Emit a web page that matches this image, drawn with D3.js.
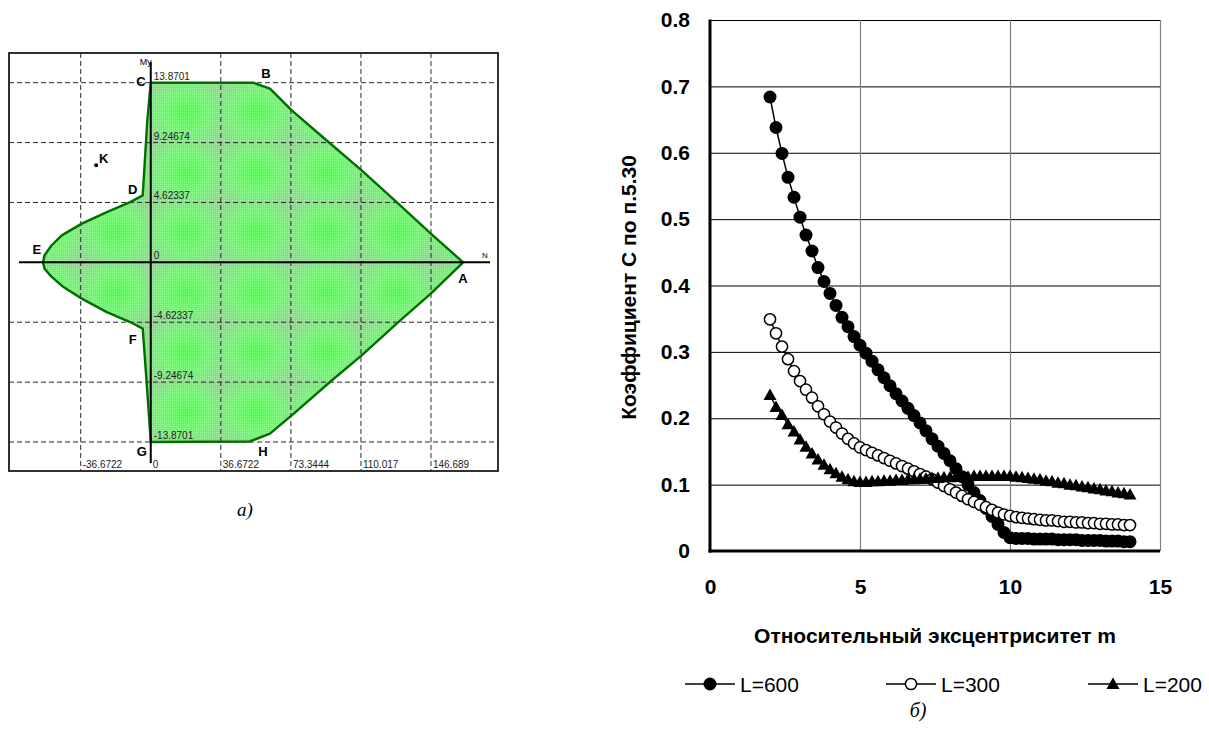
<!DOCTYPE html>
<html>
<head>
<meta charset="utf-8">
<script src="https://cdn.jsdelivr.net/npm/d3@7"></script>
<style>
  html, body { margin: 0; padding: 0; background: #fff; }
  svg { display: block; font-family: "Liberation Sans", Arial, sans-serif; }
</style>
</head>
<body>
<svg id="chart" width="1209" height="731"></svg>
<script>
// ---------- (а) interaction diagram N - My ----------
const gridN = [ -36.6722, 0, 36.6722, 73.3444, 110.017, 146.689 ]
const gridNLabels = [ '-36.6722', '0', '36.6722', '73.3444', '110.017', '146.689' ]
const gridM = [ 13.8701, 9.24674, 4.62337, 0, -4.62337, -9.24674, -13.8701 ]
const gridMLabels = [ '13.8701', '9.24674', '4.62337', '0', '-4.62337', '-9.24674', '-13.8701' ]

// boundary of the curve, clockwise from C
const curveN = [ 0, 53.7, 62.4, 73.8, 92.1, 110.4, 128.7, 146.6, 163.5, 146.6, 128.7, 110.4, 93.8, 73.8, 62.4, 51.9, 0,
                 -2.1, -4.2, -10.8, -23.0, -36.1, -45.7, -52.0, -55.6, -56.4, -55.6, -52.0, -46.6, -36.1, -23.0, -10.8, -4.2, -1.8 ]
const curveM = [ 13.87, 13.87, 13.41, 11.73, 9.41, 7.10, 4.65, 2.22, 0, -2.42, -4.73, -7.18, -9.24, -11.81, -13.22, -13.83, -13.87,
                 -9.36, -5.12, -4.61, -3.84, -2.80, -1.91, -1.10, -0.50, 0, 0.55, 1.30, 2.08, 2.99, 3.88, 4.65, 5.17, 10.96 ]

const pointNames = [ 'A', 'B', 'C', 'D', 'E', 'F', 'G', 'H', 'K' ]
const pointN = [ 163.4, 60.3, -5.2, -9.4, -59.6, -9.4, -4.7, 58.7, -24.6 ]
const pointM = [ -1.23, 14.59, 14.0, 5.63, 1.0, -5.94, -14.64, -14.64, 8.03 ]
const loadN = -28.6, loadM = 7.49

// ---------- (б) coefficient C vs relative eccentricity ----------
const eccentricity = [ 2.0, 2.2, 2.4, 2.6, 2.8, 3.0, 3.2, 3.4, 3.6, 3.8, 4.0, 4.2, 4.4, 4.6, 4.8, 5.0, 5.2, 5.4, 5.6, 5.8,
                       6.0, 6.2, 6.4, 6.6, 6.8, 7.0, 7.2, 7.4, 7.6, 7.8, 8.0, 8.2, 8.4, 8.6, 8.8, 9.0, 9.2, 9.4, 9.6, 9.8,
                       10.0, 10.2, 10.4, 10.6, 10.8, 11.0, 11.2, 11.4, 11.6, 11.8, 12.0, 12.2, 12.4, 12.6, 12.8, 13.0, 13.2, 13.4, 13.6, 13.8, 14.0 ]

const cL600 = [ 0.684, 0.638, 0.599, 0.563, 0.533, 0.503, 0.476, 0.452, 0.427, 0.406, 0.388, 0.370, 0.352, 0.338, 0.323, 0.310, 0.298, 0.286, 0.273, 0.261,
                0.249, 0.237, 0.226, 0.215, 0.204, 0.193, 0.181, 0.169, 0.158, 0.147, 0.136, 0.124, 0.112, 0.100, 0.088, 0.076, 0.064, 0.052, 0.040, 0.028,
                0.020, 0.019, 0.019, 0.019, 0.018, 0.018, 0.018, 0.018, 0.017, 0.017, 0.017, 0.017, 0.016, 0.016, 0.016, 0.016, 0.015, 0.015, 0.015, 0.014, 0.014 ]

const cL300 = [ 0.349, 0.328, 0.308, 0.289, 0.271, 0.256, 0.243, 0.231, 0.218, 0.206, 0.195, 0.186, 0.177, 0.169, 0.162, 0.156, 0.152, 0.148, 0.144, 0.140,
                0.136, 0.132, 0.128, 0.124, 0.120, 0.116, 0.112, 0.108, 0.103, 0.098, 0.093, 0.088, 0.083, 0.078, 0.074, 0.070, 0.066, 0.062, 0.058, 0.055,
                0.053, 0.051, 0.050, 0.049, 0.048, 0.047, 0.046, 0.046, 0.045, 0.044, 0.044, 0.043, 0.043, 0.042, 0.042, 0.041, 0.041, 0.040, 0.040, 0.039, 0.039 ]

const cL200 = [ 0.235, 0.217, 0.205, 0.191, 0.180, 0.168, 0.157, 0.147, 0.138, 0.130, 0.123, 0.117, 0.112, 0.108, 0.105, 0.104, 0.104, 0.105, 0.105, 0.106,
                0.106, 0.107, 0.107, 0.108, 0.108, 0.109, 0.109, 0.110, 0.110, 0.111, 0.111, 0.112, 0.112, 0.112, 0.113, 0.113, 0.113, 0.113, 0.113, 0.113,
                0.113, 0.112, 0.111, 0.110, 0.109, 0.108, 0.106, 0.105, 0.103, 0.102, 0.100, 0.099, 0.097, 0.096, 0.094, 0.093, 0.091, 0.090, 0.088, 0.087, 0.085 ]

const seriesNames = [ 'L=600', 'L=300', 'L=200' ]
const xTicks = [ 0, 5, 10, 15 ]
const yTicks = [ 0, 0.1, 0.2, 0.3, 0.4, 0.5, 0.6, 0.7, 0.8 ]

const svg = d3.select( '#chart' )
const defs = svg.append( 'defs' )

// ================= left diagram =================
const xN = d3.scaleLinear().domain( [ -36.6722, 146.689 ] ).range( [ 80.7, 431 ] )
const yM = d3.scaleLinear().domain( [ -13.8701, 13.8701 ] ).range( [ 442, 82.7 ] )
const frame = { x0: 9, x1: 498, y0: 53, y1: 471 }

const cellW = xN( 36.6722 ) - xN( 0 ),
      cellH = yM( 0 ) - yM( 4.62337 )

// each grid cell glows bright green in the middle and turns greyish at its edges
const glow = defs.append( 'radialGradient' ).attr( 'id', 'cellGlow' ).attr( 'r', '0.72' )
glow.append( 'stop' ).attr( 'offset', '0%' ).attr( 'stop-color', '#52ff52' )
glow.append( 'stop' ).attr( 'offset', '45%' ).attr( 'stop-color', '#72fc72' )
glow.append( 'stop' ).attr( 'offset', '100%' ).attr( 'stop-color', '#98d898' )

const cells = defs.append( 'pattern' )
    .attr( 'id', 'cells' )
    .attr( 'patternUnits', 'userSpaceOnUse' )
    .attr( 'x', xN( 0 ) ).attr( 'y', yM( 0 ) )
    .attr( 'width', cellW ).attr( 'height', cellH )
cells.append( 'rect' ).attr( 'width', cellW ).attr( 'height', cellH ).attr( 'fill', 'url(#cellGlow)' )

const dither = defs.append( 'pattern' )
    .attr( 'id', 'dither' )
    .attr( 'patternUnits', 'userSpaceOnUse' )
    .attr( 'width', 2 ).attr( 'height', 2 )
dither.append( 'rect' ).attr( 'width', 1 ).attr( 'height', 1 ).attr( 'fill', 'rgba(255,255,255,0.14)' )
dither.append( 'rect' ).attr( 'x', 1 ).attr( 'y', 1 ).attr( 'width', 1 ).attr( 'height', 1 ).attr( 'fill', 'rgba(0,70,0,0.08)' )

const left = svg.append( 'g' ).attr( 'class', 'diagram' )

left.append( 'rect' )
    .attr( 'x', frame.x0 ).attr( 'y', frame.y0 )
    .attr( 'width', frame.x1 - frame.x0 ).attr( 'height', frame.y1 - frame.y0 )
    .attr( 'fill', '#fff' )
    .attr( 'stroke', '#1a1a1a' )
    .attr( 'stroke-width', 1.8 )

const boundary = curveN.map( ( n, i ) => [ xN( n ), yM( curveM[ i ] ) ] )
const area = d3.line().curve( d3.curveLinearClosed )

left.append( 'path' ).attr( 'd', area( boundary ) ).attr( 'fill', 'url(#cells)' )
left.append( 'path' ).attr( 'd', area( boundary ) ).attr( 'fill', 'url(#dither)' )

// dashed grid
left.append( 'g' )
    .selectAll( 'line' )
    .data( gridN.filter( v => v !== 0 ) )
    .join( 'line' )
    .attr( 'x1', d => xN( d ) ).attr( 'x2', d => xN( d ) )
    .attr( 'y1', frame.y0 ).attr( 'y2', frame.y1 )
    .attr( 'stroke', '#2a2a2a' ).attr( 'stroke-width', 1 ).attr( 'stroke-dasharray', '5,3' )

left.append( 'g' )
    .selectAll( 'line' )
    .data( gridM.filter( v => v !== 0 ) )
    .join( 'line' )
    .attr( 'x1', frame.x0 ).attr( 'x2', frame.x1 )
    .attr( 'y1', d => yM( d ) ).attr( 'y2', d => yM( d ) )
    .attr( 'stroke', '#2a2a2a' ).attr( 'stroke-width', 1 ).attr( 'stroke-dasharray', '5,3' )

left.append( 'path' )
    .attr( 'd', area( boundary ) )
    .attr( 'fill', 'none' )
    .attr( 'stroke', '#006e00' )
    .attr( 'stroke-width', 2.4 )
    .attr( 'stroke-linejoin', 'round' )

// main axes
left.append( 'line' )
    .attr( 'x1', 19 ).attr( 'x2', 490 )
    .attr( 'y1', yM( 0 ) ).attr( 'y2', yM( 0 ) )
    .attr( 'stroke', '#000' ).attr( 'stroke-width', 2 )
left.append( 'line' )
    .attr( 'x1', xN( 0 ) ).attr( 'x2', xN( 0 ) )
    .attr( 'y1', 62 ).attr( 'y2', 463 )
    .attr( 'stroke', '#000' ).attr( 'stroke-width', 2 )

left.append( 'g' )
    .selectAll( 'text' )
    .data( gridN )
    .join( 'text' )
    .attr( 'x', d => xN( d ) + 2 )
    .attr( 'y', frame.y1 - 3 )
    .attr( 'font-size', 10 )
    .attr( 'fill', '#222' )
    .text( ( d, i ) => gridNLabels[ i ] )

left.append( 'g' )
    .selectAll( 'text' )
    .data( gridM )
    .join( 'text' )
    .attr( 'x', xN( 0 ) + 3 )
    .attr( 'y', d => yM( d ) - 3 )
    .attr( 'font-size', 10 )
    .attr( 'fill', '#222' )
    .text( ( d, i ) => gridMLabels[ i ] )

left.append( 'text' )
    .attr( 'x', xN( 0 ) + 1 ).attr( 'y', 65 )
    .attr( 'text-anchor', 'end' )
    .attr( 'font-size', 9 )
    .text( 'My' )
left.append( 'text' )
    .attr( 'x', 485 ).attr( 'y', 258 )
    .attr( 'text-anchor', 'middle' )
    .attr( 'font-size', 8 )
    .text( 'N' )

left.append( 'g' )
    .selectAll( 'text' )
    .data( pointNames )
    .join( 'text' )
    .attr( 'x', ( d, i ) => xN( pointN[ i ] ) )
    .attr( 'y', ( d, i ) => yM( pointM[ i ] ) )
    .attr( 'text-anchor', 'middle' )
    .attr( 'dominant-baseline', 'central' )
    .attr( 'font-size', 13 )
    .attr( 'font-weight', 'bold' )
    .text( d => d )

left.append( 'circle' )
    .attr( 'cx', xN( loadN ) ).attr( 'cy', yM( loadM ) )
    .attr( 'r', 2 ).attr( 'fill', '#000' )

svg.append( 'text' )
    .attr( 'x', 245 ).attr( 'y', 516 )
    .attr( 'text-anchor', 'middle' )
    .attr( 'font-family', '"Liberation Serif", "Times New Roman", serif' )
    .attr( 'font-style', 'italic' )
    .attr( 'font-size', 19 )
    .text( 'а)' )

// ================= right chart =================
const xC = d3.scaleLinear().domain( [ 0, 15 ] ).range( [ 710, 1160 ] )
const yC = d3.scaleLinear().domain( [ 0, 0.8 ] ).range( [ 551, 20 ] )
const plotW = xC( 15 ) - xC( 0 ),
      plotH = yC( 0 ) - yC( 0.8 )
const boldText = g => g.selectAll( 'text' )
    .attr( 'font-size', 21 )
    .attr( 'font-weight', 'bold' )
    .attr( 'font-family', '"Liberation Sans", Arial, sans-serif' )
    .attr( 'fill', '#000' )

const right = svg.append( 'g' ).attr( 'class', 'coef' )

// horizontal grid
right.append( 'g' )
    .attr( 'transform', `translate( ${ xC( 0 ) }, 0 )` )
    .call( d3.axisLeft( yC ).tickValues( yTicks.slice( 1 ) ).tickSize( -plotW ).tickFormat( '' ) )
    .call( g => g.select( '.domain' ).remove() )
    .call( g => g.selectAll( '.tick line' ).attr( 'stroke', '#000' ).attr( 'stroke-width', 1 ) )

// vertical grid
right.append( 'g' )
    .attr( 'transform', `translate( 0, ${ yC( 0 ) } )` )
    .call( d3.axisBottom( xC ).tickValues( xTicks.slice( 1 ) ).tickSize( -plotH ).tickFormat( '' ) )
    .call( g => g.select( '.domain' ).remove() )
    .call( g => g.selectAll( '.tick line' ).attr( 'stroke', '#808080' ).attr( 'stroke-width', 1.2 ) )

// tick labels
right.append( 'g' )
    .attr( 'transform', `translate( ${ xC( 0 ) }, 0 )` )
    .call( d3.axisLeft( yC ).tickValues( yTicks ).tickSize( 0 ).tickPadding( 20 ).tickFormat( d => d === 0 ? '0' : d3.format( '.1f' )( d ) ) )
    .call( g => g.select( '.domain' ).remove() )
    .call( boldText )

right.append( 'g' )
    .attr( 'transform', `translate( 0, ${ yC( 0 ) } )` )
    .call( d3.axisBottom( xC ).tickValues( xTicks ).tickSize( 0 ).tickPadding( 28 ) )
    .call( g => g.select( '.domain' ).remove() )
    .call( boldText )

// axis lines
right.append( 'line' )
    .attr( 'x1', xC( 0 ) ).attr( 'x2', xC( 0 ) )
    .attr( 'y1', yC( 0.8 ) - 0.5 ).attr( 'y2', yC( 0 ) + 1.5 )
    .attr( 'stroke', '#000' ).attr( 'stroke-width', 3 )
right.append( 'line' )
    .attr( 'x1', xC( 0 ) - 1.5 ).attr( 'x2', xC( 15 ) )
    .attr( 'y1', yC( 0 ) ).attr( 'y2', yC( 0 ) )
    .attr( 'stroke', '#000' ).attr( 'stroke-width', 3 )

right.append( 'text' )
    .attr( 'x', ( xC( 0 ) + xC( 15 ) ) / 2 )
    .attr( 'y', 643 )
    .attr( 'text-anchor', 'middle' )
    .attr( 'font-size', 21 )
    .attr( 'font-weight', 'bold' )
    .text( 'Относительный эксцентриситет m' )

right.append( 'text' )
    .attr( 'transform', `translate( 636, ${ ( yC( 0 ) + yC( 0.8 ) ) / 2 + 2 } ) rotate( -90 )` )
    .attr( 'text-anchor', 'middle' )
    .attr( 'font-size', 21 )
    .attr( 'font-weight', 'bold' )
    .text( 'Коэффициент С по п.5.30' )

// markers
const triangle = 'M0,-6.5L6.5,5L-6.5,5Z'
const drawMarker = ( sel, kind ) => {
    if( kind === 0 ) sel.append( 'circle' ).attr( 'r', 6.5 ).attr( 'fill', '#000' )
    if( kind === 1 ) sel.append( 'circle' ).attr( 'r', 5.6 ).attr( 'fill', '#fff' ).attr( 'stroke', '#000' ).attr( 'stroke-width', 1.5 )
    if( kind === 2 ) sel.append( 'path' ).attr( 'd', triangle ).attr( 'fill', '#000' )
}

const line = d3.line().x( d => xC( d[0] ) ).y( d => yC( d[1] ) )
const series = [ cL600, cL300, cL200 ]

series.forEach( ( values, k ) => {
    const pts = eccentricity.map( ( m, i ) => [ m, values[ i ] ] )
    const g = right.append( 'g' ).attr( 'class', `series s${k}` )

    g.append( 'path' )
        .attr( 'd', line( pts ) )
        .attr( 'fill', 'none' )
        .attr( 'stroke', '#000' )
        .attr( 'stroke-width', 1.5 )

    g.selectAll( 'g.pt' )
        .data( pts )
        .join( 'g' )
        .attr( 'class', 'pt' )
        .attr( 'transform', d => `translate( ${ xC( d[0] ) }, ${ yC( d[1] ) } )` )
        .each( function() { drawMarker( d3.select( this ), k ) } )
} )

// legend
const legendX = [ 685, 886, 1088 ]
const legend = right.append( 'g' ).attr( 'class', 'legend' )
seriesNames.forEach( ( name, k ) => {
    const g = legend.append( 'g' ).attr( 'transform', `translate( ${ legendX[ k ] }, 684 )` )
    g.append( 'line' ).attr( 'x1', 0 ).attr( 'x2', 50 ).attr( 'stroke', '#000' ).attr( 'stroke-width', 1.5 )
    drawMarker( g.append( 'g' ).attr( 'transform', 'translate( 25, 0 )' ), k )
    g.append( 'text' )
        .attr( 'x', 55 ).attr( 'y', 7.5 )
        .attr( 'font-size', 21 )
        .text( name )
} )

svg.append( 'text' )
    .attr( 'x', 918 ).attr( 'y', 717 )
    .attr( 'text-anchor', 'middle' )
    .attr( 'font-family', '"Liberation Serif", "Times New Roman", serif' )
    .attr( 'font-style', 'italic' )
    .attr( 'font-size', 20 )
    .text( 'б)' )
</script>
</body>
</html>
